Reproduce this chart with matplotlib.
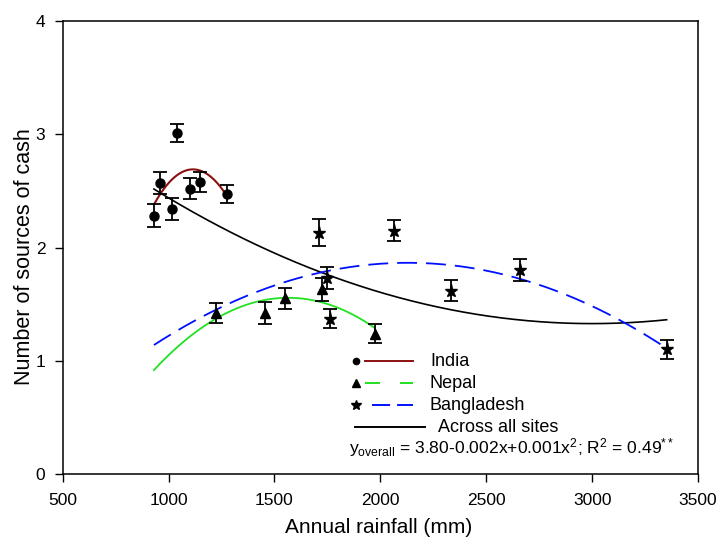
import numpy as np
import matplotlib
matplotlib.use("Agg")
import matplotlib.pyplot as plt
from matplotlib.lines import Line2D

plt.rcParams['font.family'] = ['Liberation Sans', 'DejaVu Sans']
plt.rcParams['mathtext.fontset'] = 'custom'
plt.rcParams['mathtext.rm'] = 'Liberation Sans'
plt.rcParams['mathtext.it'] = 'Liberation Sans'

# ---- data ----
india_x = [931, 961, 1040, 1015, 1103, 1148, 1277]
india_y = [2.28, 2.57, 3.01, 2.34, 2.52, 2.58, 2.47]
india_err = [0.10, 0.10, 0.08, 0.095, 0.095, 0.09, 0.08]

nepal_x = [1224, 1457, 1548, 1724, 1975]
nepal_y = [1.42, 1.42, 1.55, 1.63, 1.24]
nepal_err = [0.09, 0.095, 0.09, 0.10, 0.085]

bangl_x = [1710, 1746, 1762, 2063, 2332, 2659, 3352]
bangl_y = [2.13, 1.73, 1.37, 2.15, 1.62, 1.80, 1.10]
bangl_err = [0.12, 0.10, 0.085, 0.09, 0.09, 0.10, 0.085]

# fitted trend curves: points (used to rebuild the fit)
india_curve_x = [931, 1117, 1277]
india_curve_y = [2.38, 2.69, 2.45]
nepal_curve_x = [931, 1564, 1975]
nepal_curve_y = [0.918, 1.556, 1.288]
bangl_curve_x = [931, 2140, 3352]
bangl_curve_y = [1.139, 1.865, 1.11]
overall_curve_x = [931, 1290, 1669, 1746, 2094, 2612, 2833, 3132, 3352]
overall_curve_y = [2.51, 2.154, 1.815, 1.756, 1.55, 1.374, 1.336, 1.336, 1.359]

legend_labels = ["India", "Nepal", "Bangladesh", "Across all sites"]
equation = (r"y$_{\mathregular{overall}}$ = 3.80-0.002x+0.001x$^{\mathregular{2}}$; "
            r"R$^{\mathregular{2}}$ = 0.49$^{\mathregular{**}}$")

RED = '#8B1010'
GREEN = '#22E022'
BLUE = '#0010FF'

fig = plt.figure(figsize=(7.17, 5.39), dpi=100)
ax = fig.add_axes([0.0874, 0.1206, 0.9735 - 0.0874, 0.961 - 0.1206])


def curve(xs, ys, deg):
    c = np.polyfit(xs, ys, deg)
    xx = np.linspace(min(xs), max(xs), 200)
    return xx, np.polyval(c, xx)


xx, yy = curve(overall_curve_x, overall_curve_y, 3)
ax.plot(xx, yy, color='black', lw=1.2, zorder=2)
xx, yy = curve(bangl_curve_x, bangl_curve_y, 2)
ax.plot(xx, yy, color=BLUE, lw=1.3, dashes=(11, 5), zorder=2)
xx, yy = curve(nepal_curve_x, nepal_curve_y, 2)
ax.plot(xx, yy, color=GREEN, lw=1.3, zorder=2)
xx, yy = curve(india_curve_x, india_curve_y, 2)
ax.plot(xx, yy, color=RED, lw=1.5, zorder=2)

ekw = dict(ls='none', color='black', ecolor='black', elinewidth=1.3,
           capsize=5, capthick=1.3, zorder=3)
ax.errorbar(india_x, india_y, yerr=india_err, marker='o', ms=6.5, **ekw)
ax.errorbar(nepal_x, nepal_y, yerr=nepal_err, marker='^', ms=7, **ekw)
ax.errorbar(bangl_x, bangl_y, yerr=bangl_err, marker='*', ms=9.5, **ekw)

ax.set_xlim(500, 3500)
ax.set_ylim(0, 4)
ax.set_xticks([500, 1000, 1500, 2000, 2500, 3000, 3500])
ax.set_yticks([0, 1, 2, 3, 4])
ax.tick_params(direction='out', length=5.5, width=1, labelsize=12.5,
               top=False, right=False)
ax.tick_params(axis='x', pad=8.5)
ax.tick_params(axis='y', pad=7)
for s in ax.spines.values():
    s.set_linewidth(1.1)
ax.set_xlabel("Annual rainfall (mm)", fontsize=15)
ax.xaxis.set_label_coords(0.497, -0.098)
ax.set_ylabel("Number of sources of cash", fontsize=15.5)
ax.yaxis.set_label_coords(-0.044, 0.48)

# ---- manual legend (SigmaPlot style) ----
T = ax.transAxes
rows = [0.2494, 0.2002, 0.1523]
markers = ['o', '^', '*']
msz = [4.5, 6, 7.5]
colors = [RED, GREEN, BLUE]
starts = [0.4758, 0.4758, 0.4868]
styles = [dict(), dict(dashes=(7.7, 10.3)), dict(dashes=(9.3, 3.6))]
for r, m, ms, c, x0, st, lab in zip(rows, markers, msz, colors, starts, styles,
                                    legend_labels[:3]):
    ax.add_line(Line2D([0.4617], [r], marker=m, ms=ms, color='black', ls='none',
                       transform=T))
    ax.add_line(Line2D([x0, 0.5514], [r, r], color=c, lw=1.4, transform=T, **st))
    ax.text(0.578, r, lab, transform=T, fontsize=13, va='center', ha='left')
ax.add_line(Line2D([0.460, 0.570], [0.1031, 0.1031], color='black', lw=1.4,
                   transform=T))
ax.text(0.590, 0.1031, legend_labels[3], transform=T, fontsize=13,
        va='center', ha='left')
ax.text(0.450, 0.058, equation, transform=T, fontsize=12.6, va='center', ha='left')

fig.savefig("out.png", dpi=100)
